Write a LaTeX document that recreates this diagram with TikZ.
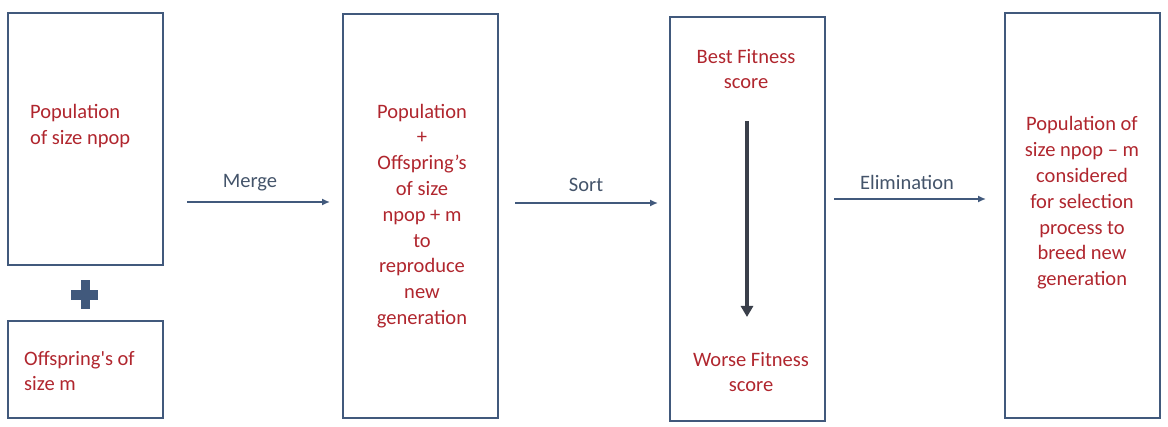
\documentclass[tikz,border=0pt]{standalone}
\usepackage{fontspec}
\newfontfamily\cf{Carlito}
\usetikzlibrary{arrows.meta}
\definecolor{boxc}{HTML}{41597C}
\definecolor{txtr}{HTML}{B0262E}
\definecolor{lblc}{HTML}{44546A}
\definecolor{darkar}{HTML}{3A3F4A}
\tikzset{
  frame/.style={draw=boxc, line width=2pt, minimum width=155pt, inner sep=0pt},
  redtxt/.style={text=txtr, font=\cf\fontsize{20.5pt}{25.8pt}\selectfont, inner sep=0pt},
  lbl/.style={text=lblc, font=\cf\fontsize{20.5pt}{25.8pt}\selectfont, inner sep=0pt},
  flow/.style={draw=boxc, line width=1.5pt, -{Latex[length=8pt,width=7pt]}}
}
\begin{document}
\begin{tikzpicture}[x=1pt,y=-1pt]
\useasboundingbox (0,0) rectangle (1168,427);
% boxes
\node[frame, minimum height=252pt] (pop) at (85.5,139) {};
\node[frame, minimum height=97pt] (off) at (85.5,369.5) {};
\node[frame, minimum height=404pt] (merged) at (420.5,216) {};
\node[frame, minimum height=404pt] (sorted) at (747.5,219) {};
\node[frame, minimum height=405pt] (result) at (1082.5,215.5) {};
% plus sign
\fill[boxc] (71,290) rectangle (98,300);
\fill[boxc] (80.5,280) rectangle (89.5,309);
% texts
\node[redtxt, align=left, anchor=west] (poptxt) at (30,126) {Population\\of size npop};
\node[redtxt, align=left, anchor=west] (offtxt) at (24,371) {Offspring's of\\size m};
\node[redtxt, align=center] (mergedtxt) at (422,216) {Population\\+\\Offspring’s\\of size\\npop + m\\to\\reproduce\\new\\generation};
\node[redtxt, align=center] (besttxt) at (746,69) {Best Fitness\\score};
\node[redtxt, align=center] (worsetxt) at (751,372) {Worse Fitness\\score};
\node[redtxt, align=center] (resulttxt) at (1082,203) {Population of\\size npop – m\\considered\\for selection\\process to\\breed new\\generation};
% arrows
\coordinate (m1) at (187,202); \coordinate (m2) at (330,202);
\coordinate (s1) at (515,203); \coordinate (s2) at (658,203);
\coordinate (e1) at (834,199); \coordinate (e2) at (986,199);
\draw[flow] (m1) -- (m2);
\draw[flow] (s1) -- (s2);
\draw[flow] (e1) -- (e2);
\node[lbl] (mergelbl) at (250,183) {Merge};
\node[lbl] (sortlbl) at (586,185) {Sort};
\node[lbl] (elimlbl) at (907,182) {Elimination};
\coordinate (v1) at (747,121); \coordinate (v2) at (747,317);
\draw[darkar, line width=4pt, -{Triangle[length=11pt,width=12pt]}] (v1) -- (v2);
\end{tikzpicture}
\end{document}
